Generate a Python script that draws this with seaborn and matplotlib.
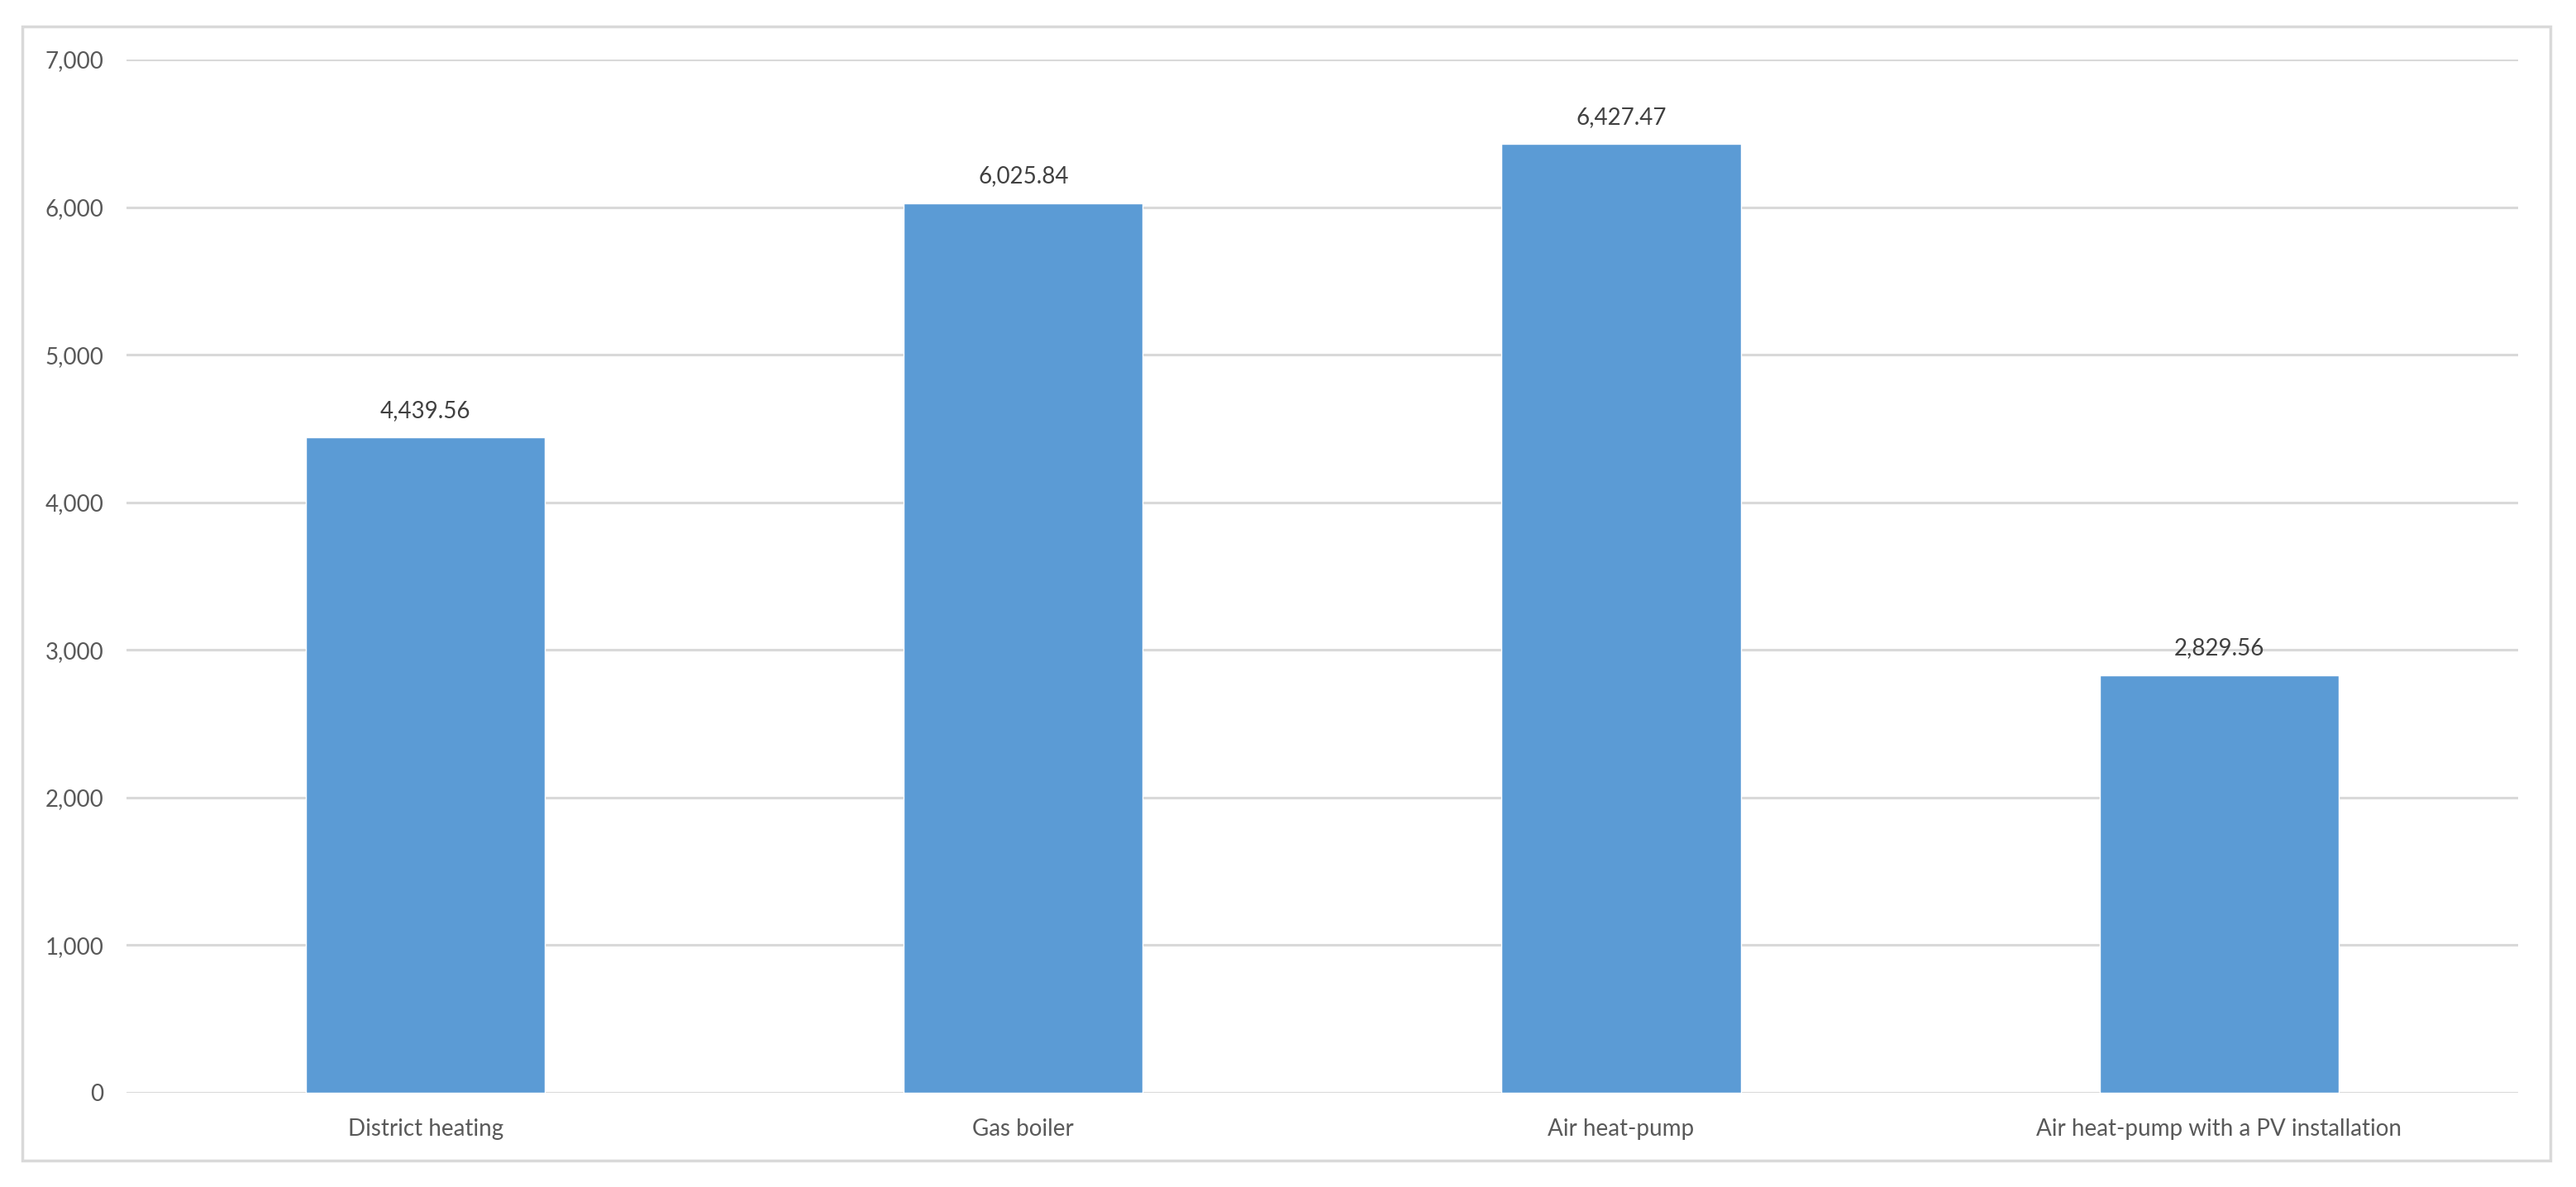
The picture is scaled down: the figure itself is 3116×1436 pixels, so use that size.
import matplotlib
matplotlib.use('Agg')
import matplotlib.pyplot as plt
import seaborn as sns
from matplotlib.patches import Rectangle
from matplotlib.ticker import FuncFormatter

# data
categories = ['District heating', 'Gas boiler', 'Air heat-pump', 'Air heat-pump with a PV installation']
values = [4439.56, 6025.84, 6427.47, 2829.56]
yticks = [0, 1000, 2000, 3000, 4000, 5000, 6000, 7000]

sns.set_style('white')
plt.rcParams['font.family'] = ['Lato', 'DejaVu Sans']

fig = plt.figure(figsize=(31.16, 14.36), dpi=100)
ax = fig.add_axes([0.0491, 0.0794, 0.9284, 0.8705])

sns.barplot(x=categories, y=values, color='#5B9BD5', saturation=1, width=0.4, ax=ax)

ax.bar_label(ax.containers[0], labels=[f'{v:,.2f}' for v in values],
             padding=14, fontsize=20, color='#404040')

ax.set_ylim(0, 7000)
ax.set_yticks(yticks)
ax.yaxis.set_major_formatter(FuncFormatter(lambda v, p: f'{v:,.0f}'))
ax.grid(axis='y', color='#D9D9D9', linewidth=2.2)
ax.set_axisbelow(True)
for s in ax.spines.values():
    s.set_visible(False)
ax.tick_params(axis='both', length=0, labelsize=20, labelcolor='#595959')
ax.tick_params(axis='y', pad=20)
ax.tick_params(axis='x', pad=22)
ax.set_xlabel('')
ax.set_ylabel('')

# outer chart border
fig.patches.append(Rectangle((0.0087, 0.0223), 0.9813, 0.9554, transform=fig.transFigure,
                             fill=False, edgecolor='#D9D9D9', linewidth=2.5))

fig.savefig('out.png', dpi=100)
